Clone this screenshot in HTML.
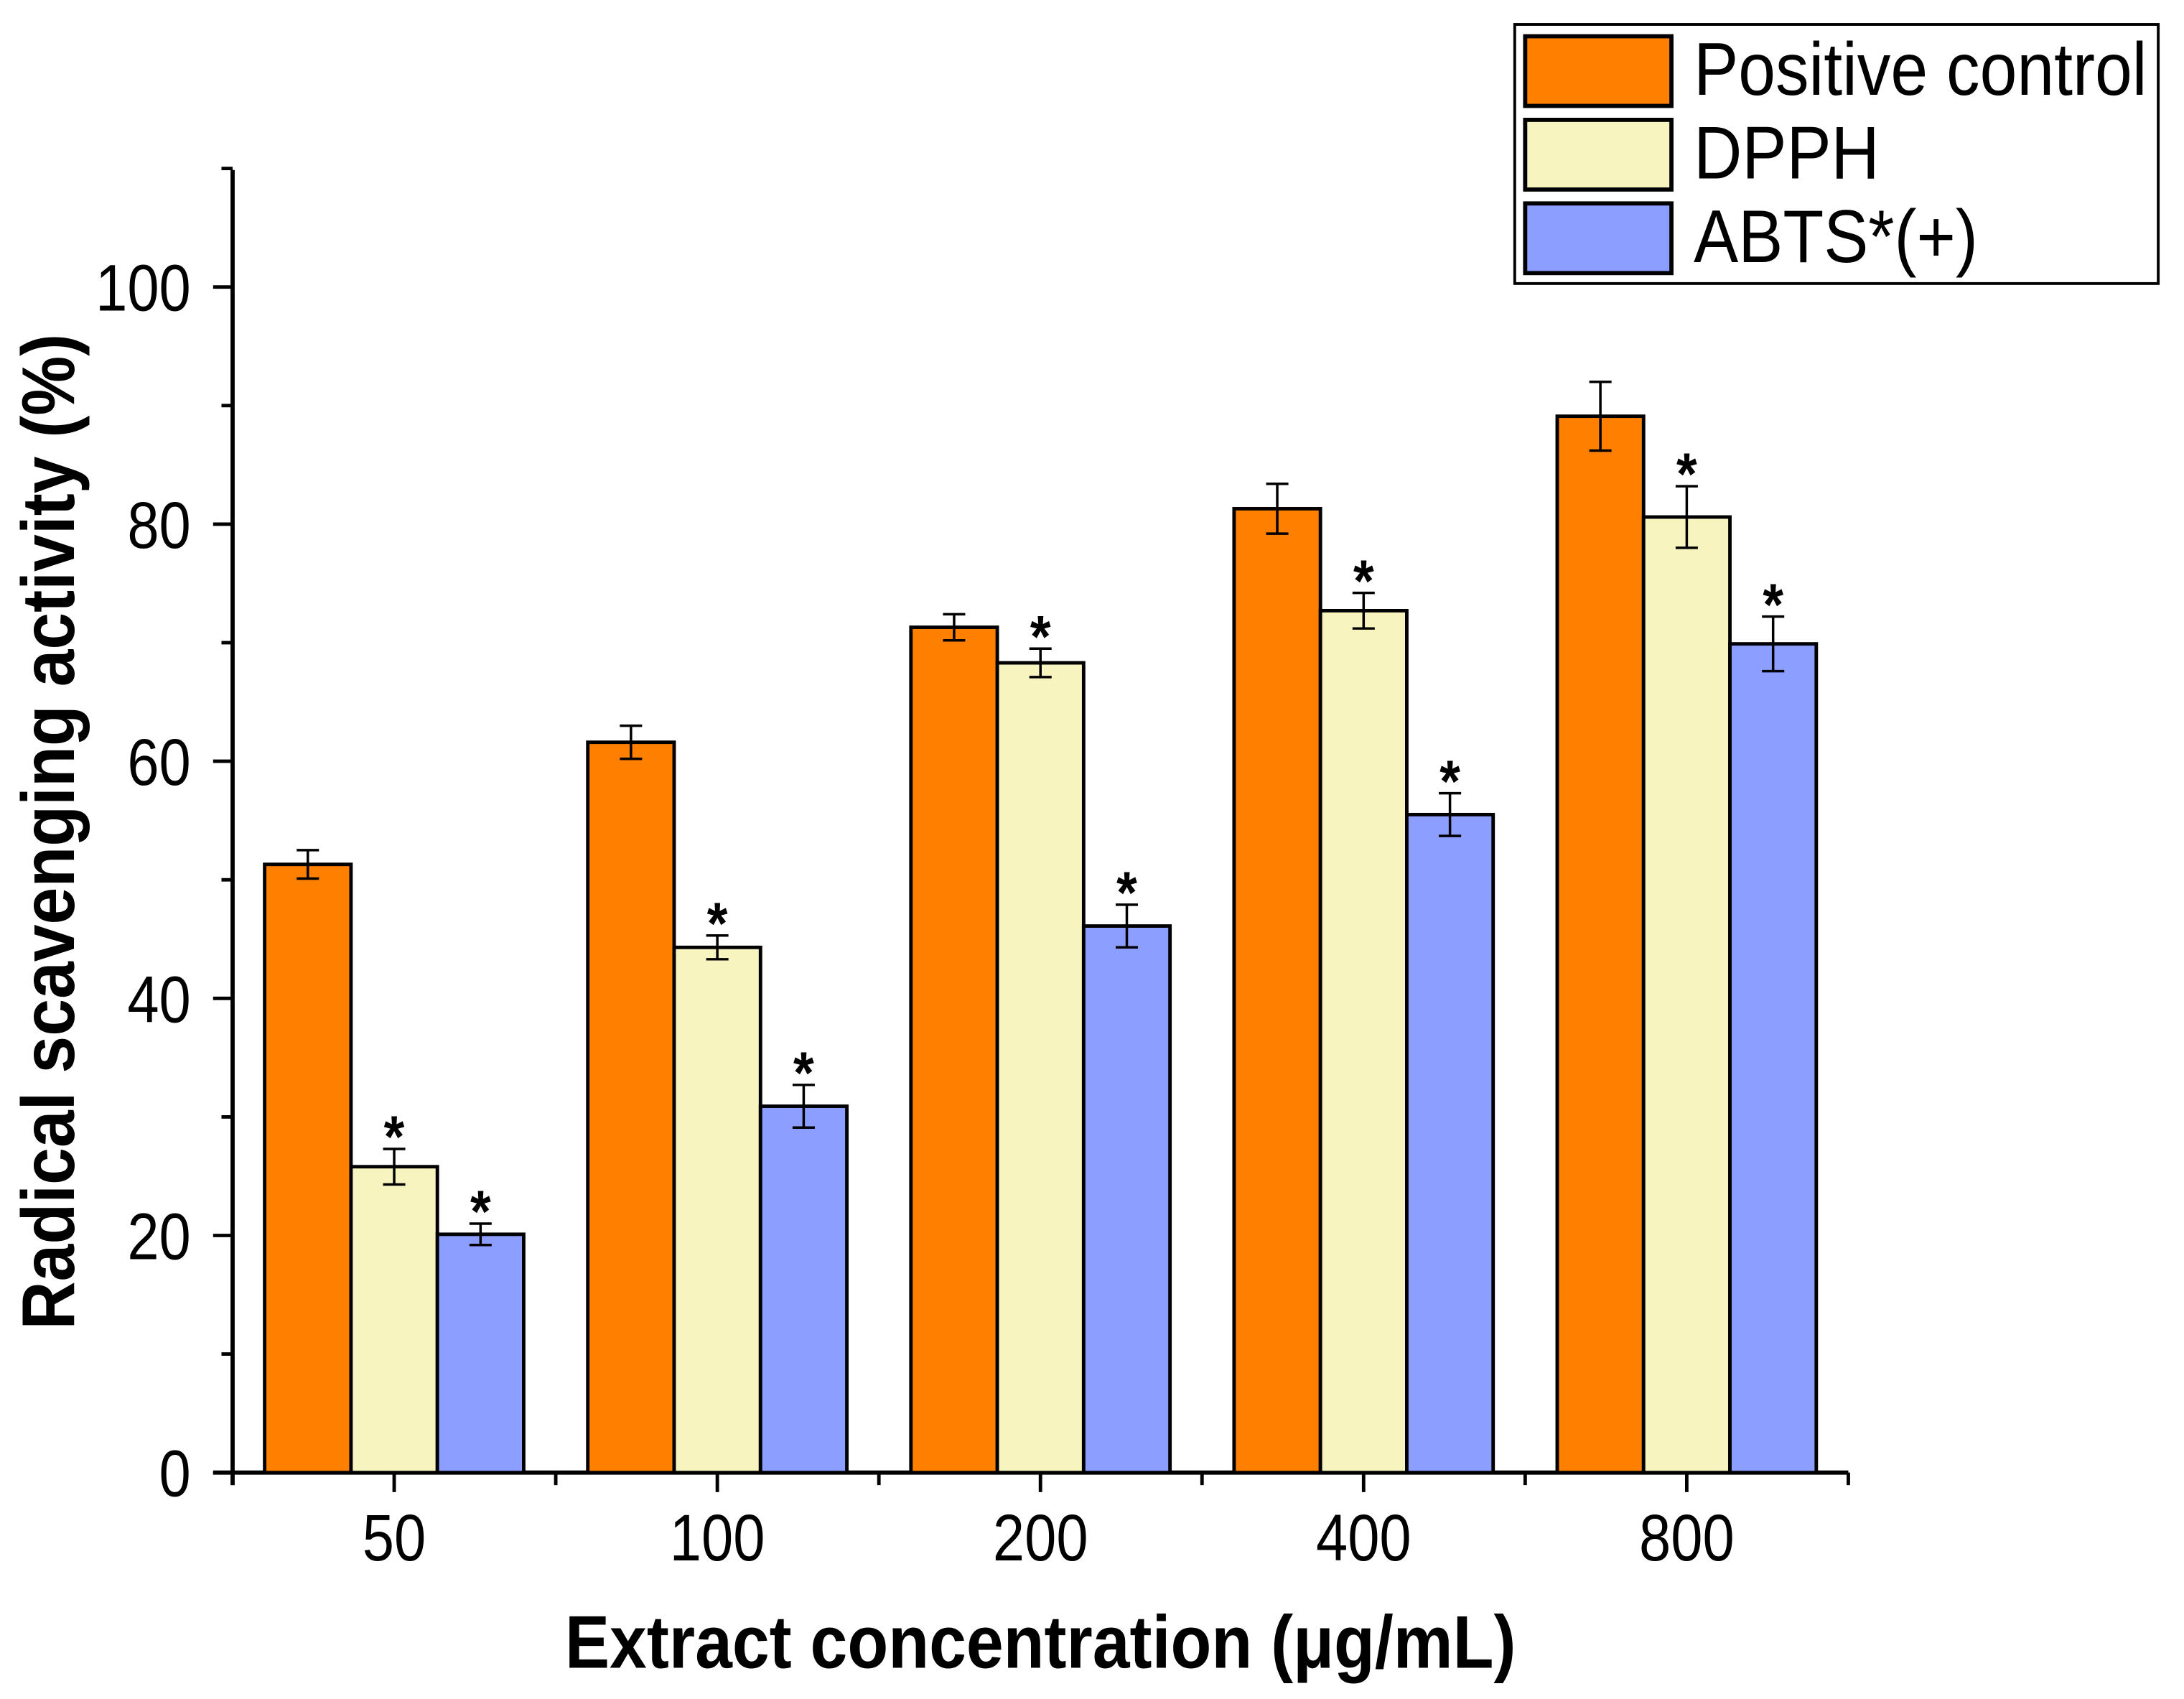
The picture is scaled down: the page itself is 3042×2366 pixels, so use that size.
<!DOCTYPE html>
<html><head><meta charset="utf-8"><style>html,body{margin:0;padding:0;background:#fff}svg{display:block}text{font-family:"Liberation Sans",sans-serif}</style></head>
<body>
<svg id="chart" width="3042" height="2366" viewBox="0 0 1568 1219.5" xmlns="http://www.w3.org/2000/svg">
<g id="axes"></g>
<g id="bars"></g>
<text x="0" y="0" transform="translate(53,597) rotate(-90) scale(1,1.12)" text-anchor="middle" font-size="48" font-weight="bold">Radical scavenging activity (%)</text>
<text x="0" y="0" transform="translate(747,1197) scale(1,1.12)" text-anchor="middle" font-size="48" font-weight="bold">Extract concentration (μg/mL)</text>
<g>
<rect x="1087.5" y="17.5" width="462" height="186" fill="#fff" stroke="#000" stroke-width="2"/>
<rect x="1095" y="26" width="105" height="50" fill="#FF8000" stroke="#000" stroke-width="3"/>
<text x="0" y="0" transform="translate(1216,68) scale(1,1.12)" font-size="48">Positive control</text>
<rect x="1095" y="86" width="105" height="50" fill="#F8F4C0" stroke="#000" stroke-width="3"/>
<text x="0" y="0" transform="translate(1216,128) scale(1,1.12)" font-size="48">DPPH</text>
<rect x="1095" y="146" width="105" height="50" fill="#8C9EFF" stroke="#000" stroke-width="3"/>
<text x="0" y="0" transform="translate(1216,188) scale(1,1.12)" font-size="48">ABTS*(+)</text>
</g>
</svg>
<script>
const categories = ["50","100","200","400","800"];
const positiveControl = [51.3, 61.6, 71.3, 81.3, 89.1];
const positiveErr = [1.2, 1.4, 1.1, 2.1, 2.9];
const dpph = [25.8, 44.3, 68.3, 72.7, 80.6];
const dpphErr = [1.5, 1.0, 1.2, 1.5, 2.6];
const abts = [20.1, 30.9, 46.1, 55.5, 69.9];
const abtsErr = [0.9, 1.8, 1.8, 1.8, 2.3];
const dpphStar = [true, true, true, true, true];
const abtsStar = [true, true, true, true, true];
const yTicks = [0, 20, 40, 60, 80, 100];
const yMinor = [10, 30, 50, 70, 90, 110];

const NS = "http://www.w3.org/2000/svg";
const X0 = 167, X1 = 1327, Y0 = 1057, YTOP = 122;
const yScale = v => Y0 - v * (Y0 - 206) / 100;
const catW = (X1 - X0) / categories.length;
const xCenter = i => X0 + catW * (i + 0.5);
const barW = 62;
function el(tag, attrs, parent, txt) {
  const e = document.createElementNS(NS, tag);
  for (const k in attrs) e.setAttribute(k, attrs[k]);
  if (txt !== undefined) e.textContent = txt;
  parent.appendChild(e);
  return e;
}
const axes = document.getElementById('axes');
const bars = document.getElementById('bars');
const series = [
  {name: 'positive-control', vals: positiveControl, err: positiveErr, color: '#FF8000', stars: null},
  {name: 'dpph', vals: dpph, err: dpphErr, color: '#F8F4C0', stars: dpphStar},
  {name: 'abts', vals: abts, err: abtsErr, color: '#8C9EFF', stars: abtsStar}
];
categories.forEach((c, i) => {
  series.forEach((s, j) => {
    const x = xCenter(i) - 1.5 * barW + j * barW;
    const y = yScale(s.vals[i]);
    const r = el('rect', {x: x, y: y, width: barW, height: Y0 - y, fill: s.color, stroke: '#000', 'stroke-width': 2.5}, bars);
    
    
    const cx = x + barW / 2, yt = yScale(s.vals[i] + s.err[i]), yb = yScale(s.vals[i] - s.err[i]);
    const eb = el('path', {d: `M${cx},${yt}V${yb}M${cx-8},${yt}H${cx+8}M${cx-8},${yb}H${cx+8}`, stroke: '#000', 'stroke-width': 1.8, fill: 'none'}, bars);
    
    
    if (s.stars && s.stars[i]) {
      const st = el('text', {x: 0, y: 0, transform: `translate(${cx},${yt + 6}) scale(1,1.12)`, 'text-anchor': 'middle', 'font-size': 38, 'font-weight': 'bold'}, bars, '*');
      
      
    }
  });
  const t = el('line', {x1: xCenter(i), x2: xCenter(i), y1: Y0, y2: Y0 + 14, stroke: '#000', 'stroke-width': 2.5}, axes);
  
  
  const lb = el('text', {x: 0, y: 0, transform: `translate(${xCenter(i)},${Y0 + 63}) scale(1,1.15)`, 'text-anchor': 'middle', 'font-size': 41}, axes, c);
  
  
});
for (let k = 0; k <= categories.length; k++) {
  const x = X0 + k * catW;
  const t = el('line', {x1: x, x2: x, y1: Y0, y2: Y0 + 9, stroke: '#000', 'stroke-width': 2.5}, axes);
  
  
}
yTicks.forEach(v => {
  const y = yScale(v);
  const t = el('line', {x1: X0 - 14, x2: X0, y1: y, y2: y, stroke: '#000', 'stroke-width': 2.5}, axes);
  
  
  const lb = el('text', {x: 0, y: 0, transform: `translate(${X0 - 30},${y + 17}) scale(1,1.15)`, 'text-anchor': 'end', 'font-size': 41}, axes, String(v));
  
  
});
yMinor.forEach(v => {
  const y = yScale(v);
  const t = el('line', {x1: X0 - 8, x2: X0, y1: y, y2: y, stroke: '#000', 'stroke-width': 2.5}, axes);
  
  
});
const ya = el('line', {x1: X0, x2: X0, y1: YTOP, y2: Y0 + 9, stroke: '#000', 'stroke-width': 3}, axes);


const xa = el('line', {x1: X0 - 14, x2: X1, y1: Y0, y2: Y0, stroke: '#000', 'stroke-width': 3}, axes);


</script>
</body></html>
